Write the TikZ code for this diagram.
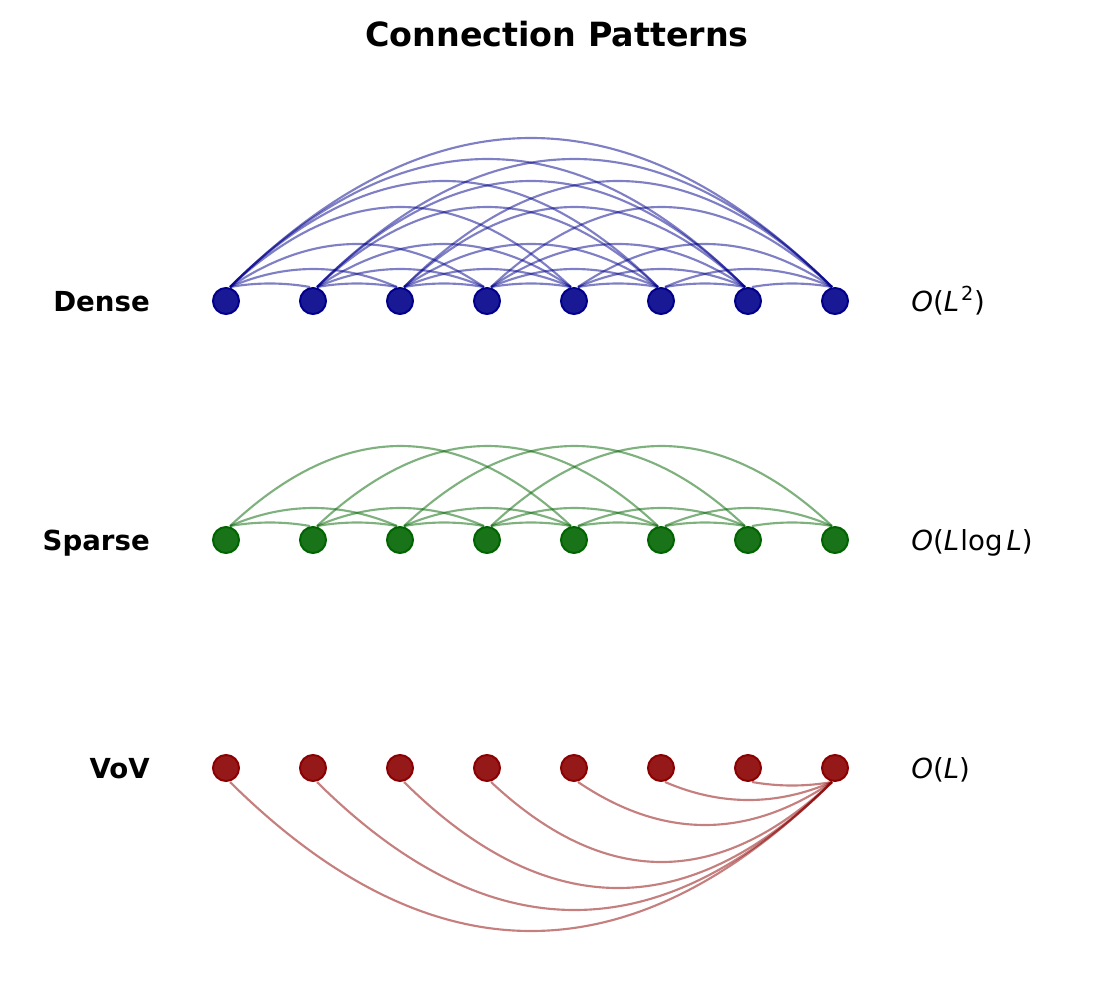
\documentclass[tikz,border=0pt]{standalone}
\usepackage{fontspec}
\setmainfont{DejaVu Sans}
\usetikzlibrary{calc}
\definecolor{dblue}{RGB}{0,0,139}
\definecolor{dgreen}{RGB}{0,100,0}
\definecolor{dred}{RGB}{139,0,0}
\begin{document}
\begin{tikzpicture}[x=0.75pt,y=-0.75pt,
  dot/.style={circle,inner sep=0pt,minimum size=19.5pt,line width=1.5pt,draw=#1,fill=#1,fill opacity=0.9},
  link/.style={draw=#1,draw opacity=0.5,line width=1.6pt},
  rowlabel/.style={anchor=base east,inner sep=0pt,font=\fontsize{20.7}{25}\selectfont\bfseries},
  cost/.style={anchor=base west,inner sep=0pt,font=\fontsize{20.7}{25}\selectfont},
  title/.style={anchor=base,inner sep=0pt,font=\fontsize{25}{30}\selectfont\bfseries}]
\useasboundingbox (0,0) rectangle (1116,1006);
\def\hlist{{0,3.5,18,43,80,106,128,149}}

\node[title] (ttl) at (557,47) {Connection Patterns};

\node[rowlabel] (ld) at (150,311) {Dense};
\node[rowlabel] (ls) at (150,550) {Sparse};
\node[rowlabel] (lv) at (150,778) {VoV};

\node[cost] (cd) at (911,311) {\textit{O}(\textit{L}\kern1.5pt\textsuperscript{2})};
\node[cost] (cs) at (911,550) {\textit{O}(\textit{L}\kern1pt log\kern3pt\textit{L})};
\node[cost] (cv) at (911,778) {\textit{O}(\textit{L})};

\foreach \i in {0,...,7}{
  \pgfmathsetmacro\xx{226+87*\i}
  \node[dot=dblue] (d\i) at (\xx,301) {};
  \node[dot=dgreen] (s\i) at (\xx,540) {};
  \node[dot=dred] (v\i) at (\xx,768) {};
}

% Dense: all pairs
\foreach \i in {0,...,6}{
  \pgfmathtruncatemacro\ii{\i+1}
  \foreach \j in {\ii,...,7}{
    \pgfmathsetmacro\k{4/3*\hlist[\j-\i]}
    \coordinate (A) at ($(d\i)+(4,-14)$);
    \coordinate (B) at ($(d\j)+(-3,-14)$);
    \draw[link=dblue] (A) .. controls ($(A)!1/3!(B)+(0,-\k)$) and ($(A)!2/3!(B)+(0,-\k)$) .. (B);
  }
}

% Sparse: distances 1, 2, 4
\foreach \dd in {1,2,4}{
  \pgfmathtruncatemacro\last{7-\dd}
  \foreach \i in {0,...,\last}{
    \pgfmathtruncatemacro\j{\i+\dd}
    \pgfmathsetmacro\k{4/3*\hlist[\dd]}
    \coordinate (A) at ($(s\i)+(4,-14)$);
    \coordinate (B) at ($(s\j)+(-3,-14)$);
    \draw[link=dgreen] (A) .. controls ($(A)!1/3!(B)+(0,-\k)$) and ($(A)!2/3!(B)+(0,-\k)$) .. (B);
  }
}

% VoV: every node to the last one, below
\foreach \i in {0,...,6}{
  \pgfmathsetmacro\k{4/3*\hlist[7-\i]}
  \coordinate (A) at ($(v\i)+(4,14)$);
  \coordinate (B) at ($(v7)+(-3,14)$);
  \draw[link=dred] (A) .. controls ($(A)!1/3!(B)+(0,\k)$) and ($(A)!2/3!(B)+(0,\k)$) .. (B);
}
\end{tikzpicture}
\end{document}
